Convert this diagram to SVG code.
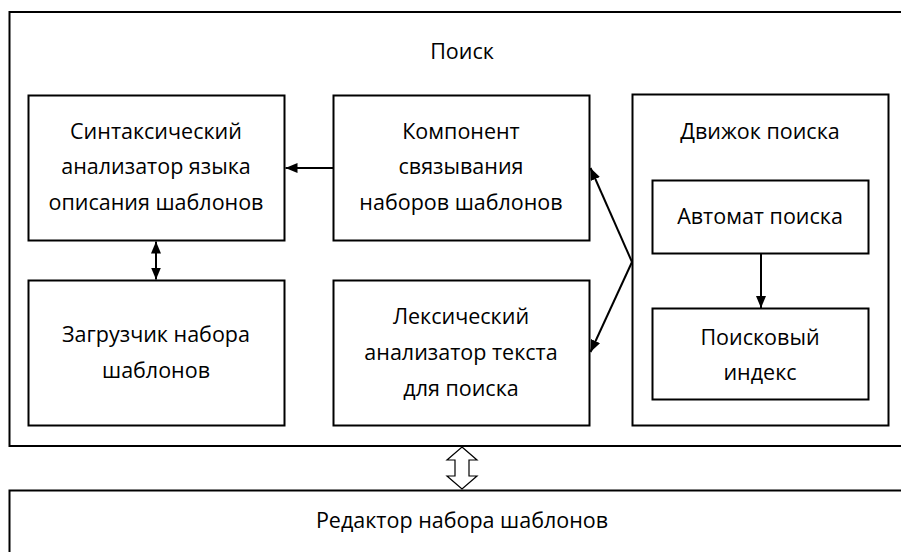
<svg xmlns="http://www.w3.org/2000/svg" width="901" height="552" viewBox="0 0 901 552">
  <style>
    .box { fill: #ffffff; stroke: #000000; stroke-width: 2; }
    .lbl { font-family: "Open Sans", "Liberation Sans", sans-serif; font-size: 21.5px; fill: #000000; text-anchor: middle; }
    .line { stroke: #000000; stroke-width: 2; fill: none; }
  </style>
  <defs>
    <marker id="arrow" viewBox="0 0 12 10" refX="12" refY="5" markerWidth="12" markerHeight="10" markerUnits="userSpaceOnUse" orient="auto-start-reverse">
      <path d="M0,0 L12,5 L0,10 Z" fill="#000000"/>
    </marker>
  </defs>

  <!-- outer search container -->
  <g id="search">
    <rect class="box" x="9.5" y="12" width="900" height="434"/>
    <text class="lbl" x="462" y="59">Поиск</text>
  </g>

  <g id="syntax-analyzer">
    <rect class="box" x="28.5" y="95.5" width="256" height="145"/>
    <text class="lbl" x="156" y="139">Синтаксический</text>
    <text class="lbl" x="156" y="174">анализатор языка</text>
    <text class="lbl" x="156" y="210">описания шаблонов</text>
  </g>

  <g id="binding-component">
    <rect class="box" x="333.5" y="95.5" width="256" height="145"/>
    <text class="lbl" x="461" y="139">Компонент</text>
    <text class="lbl" x="461" y="174">связывания</text>
    <text class="lbl" x="461" y="210">наборов шаблонов</text>
  </g>

  <g id="template-loader">
    <rect class="box" x="28.5" y="280.5" width="256" height="145"/>
    <text class="lbl" x="156" y="342">Загрузчик набора</text>
    <text class="lbl" x="156" y="378">шаблонов</text>
  </g>

  <g id="lexical-analyzer">
    <rect class="box" x="333.5" y="280.5" width="256" height="145"/>
    <text class="lbl" x="461" y="324">Лексический</text>
    <text class="lbl" x="461" y="360">анализатор текста</text>
    <text class="lbl" x="461" y="396">для поиска</text>
  </g>

  <g id="search-engine">
    <rect class="box" x="632.5" y="94.5" width="256" height="331"/>
    <text class="lbl" x="760" y="139">Движок поиска</text>
  </g>

  <g id="search-automaton">
    <rect class="box" x="652.5" y="180.5" width="216" height="73"/>
    <text class="lbl" x="760" y="224">Автомат поиска</text>
  </g>

  <g id="search-index">
    <rect class="box" x="652.5" y="308.5" width="216" height="91"/>
    <text class="lbl" x="760" y="345">Поисковый</text>
    <text class="lbl" x="760" y="380">индекс</text>
  </g>

  <g id="template-editor">
    <rect class="box" x="9.5" y="490.5" width="900" height="80"/>
    <text class="lbl" x="462" y="528">Редактор набора шаблонов</text>
  </g>

  <g id="connectors">
    <line class="line" x1="333.5" y1="168" x2="285.5" y2="168" marker-end="url(#arrow)"/>
    <line class="line" x1="156" y1="241.5" x2="156" y2="279.5" marker-start="url(#arrow)" marker-end="url(#arrow)"/>
    <line class="line" x1="632" y1="262" x2="590.5" y2="168" marker-end="url(#arrow)"/>
    <line class="line" x1="632" y1="262" x2="590.5" y2="352" marker-end="url(#arrow)"/>
    <line class="line" x1="761" y1="254" x2="761" y2="308" marker-end="url(#arrow)"/>
    <!-- hollow two-way arrow between search and editor -->
    <path d="M462,447 L477,460 L469,460 L469,476 L477,476 L462,489 L447,476 L455,476 L455,460 L447,460 Z" fill="#ffffff" stroke="#000000" stroke-width="1.2"/>
  </g>
</svg>
